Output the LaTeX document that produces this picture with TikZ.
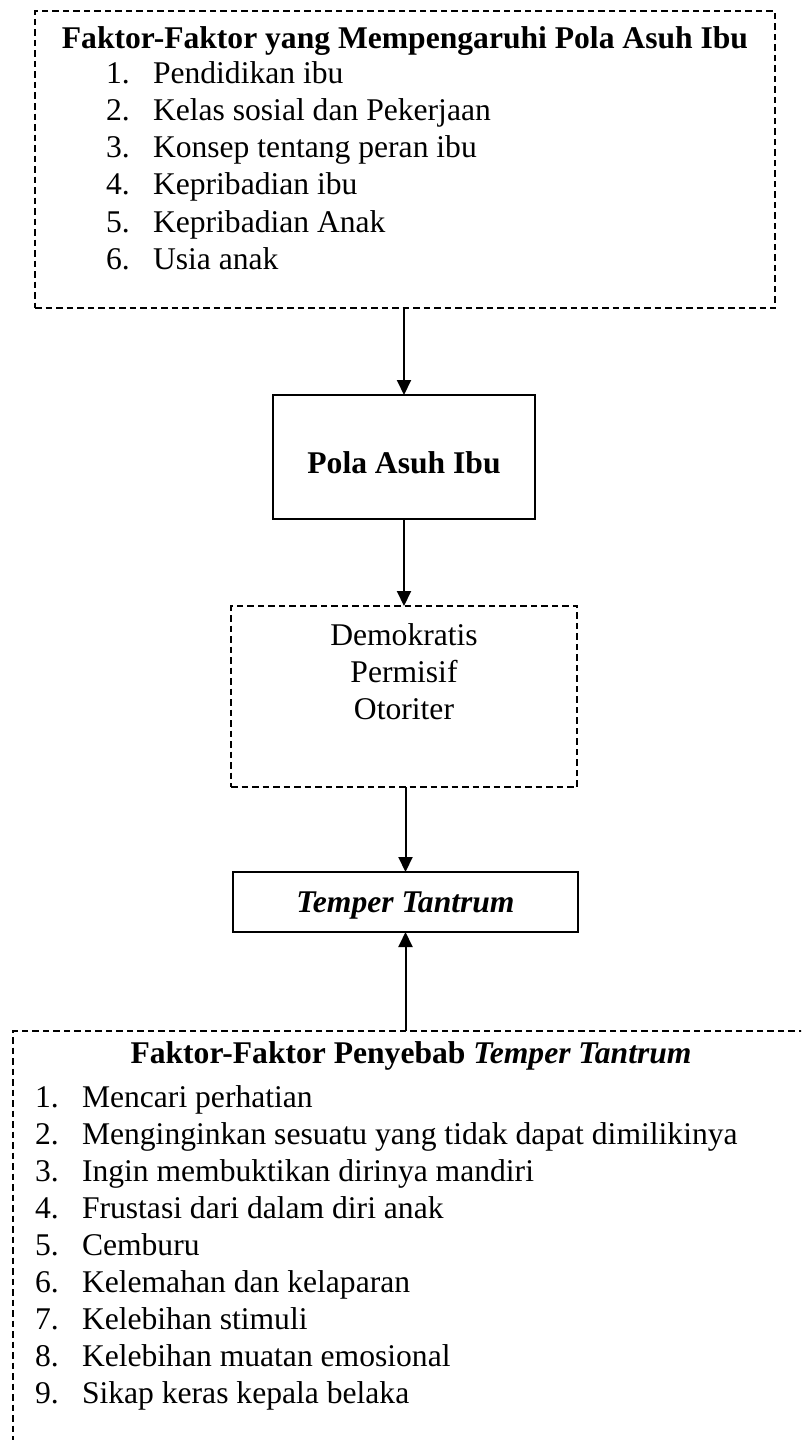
\documentclass[tikz,border=0pt]{standalone}
\usepackage{fontspec}
\setmainfont{Liberation Serif}
\usetikzlibrary{arrows.meta}
\newcommand{\bigfs}{\fontsize{31.6}{37.3}\selectfont}
\begin{document}
\begin{tikzpicture}[x=1pt,y=-1pt,
  dbox/.style={draw, rectangle, dash pattern=on 6.5pt off 4pt, line width=1.4pt, inner sep=0pt, outer sep=0pt},
  sbox/.style={draw, rectangle, line width=1.6pt, inner sep=0pt, outer sep=0pt},
  arr/.style={line width=2pt, -{Triangle[length=15pt,width=14pt]}},
  txt/.style={inner sep=0pt, outer sep=0pt, anchor=base, font=\bigfs},
  btxt/.style={txt, font=\bigfs\bfseries},
  itm/.style={inner sep=0pt, outer sep=0pt, anchor=base west, font=\bigfs}]
\useasboundingbox (0,0) rectangle (801,1440);
\clip (0,0) rectangle (801,1440);
% boxes
\node[dbox, minimum width=740pt, minimum height=297pt] (top) at (405,159.5) {};
\node[sbox, minimum width=262pt, minimum height=124pt] (pola) at (404,457) {};
\node[dbox, minimum width=346pt, minimum height=181pt] (demo) at (404,696.5) {};
\node[sbox, minimum width=345pt, minimum height=60pt] (tt) at (405.5,902) {};
\node[dbox, minimum width=796pt, minimum height=439pt] (bot) at (411,1250.5) {};
% top box text
\node[btxt] (toptitle) at (405,48) {Faktor-Faktor yang Mempengaruhi Pola Asuh Ibu};
\foreach \i/\t in {1/Pendidikan ibu, 2/Kelas sosial dan Pekerjaan, 3/Konsep tentang peran ibu, 4/Kepribadian ibu, 5/Kepribadian Anak, 6/Usia anak}{
  \node[itm] (tn\i) at (106,{83+37.3*(\i-1)}) {\i.};
  \node[itm] (tt\i) at (153,{83+37.3*(\i-1)}) {\t};
}
% middle texts
\node[btxt] (polatext) at (404,473) {Pola Asuh Ibu};
\node[txt] (d1) at (404,645) {Demokratis};
\node[txt] (d2) at (404,682) {Permisif};
\node[txt] (d3) at (404,719) {Otoriter};
\node[btxt, font=\bigfs\bfseries\itshape] (tttext) at (405.5,912) {Temper Tantrum};
% bottom box text
\node[btxt] (bottitle) at (411,1063) {Faktor-Faktor Penyebab \textit{Temper Tantrum}};
\foreach \i/\t in {1/Mencari perhatian, 2/Menginginkan sesuatu yang tidak dapat dimilikinya, 3/Ingin membuktikan dirinya mandiri, 4/Frustasi dari dalam diri anak, 5/Cemburu, 6/Kelemahan dan kelaparan, 7/Kelebihan stimuli, 8/Kelebihan muatan emosional, 9/Sikap keras kepala belaka}{
  \node[itm] (bn\i) at (35,{1107+37*(\i-1)}) {\i.};
  \node[itm] (bt\i) at (82,{1107+37*(\i-1)}) {\t};
}
% connectors
\draw[arr] (top.south -| pola.north) -- (pola.north);
\draw[arr] (pola.south) -- (demo.north -| pola.south);
\draw[arr] (demo.south -| tt.north) -- (tt.north);
\draw[arr] (tt.south |- bot.north) -- (tt.south);
\end{tikzpicture}
\end{document}
